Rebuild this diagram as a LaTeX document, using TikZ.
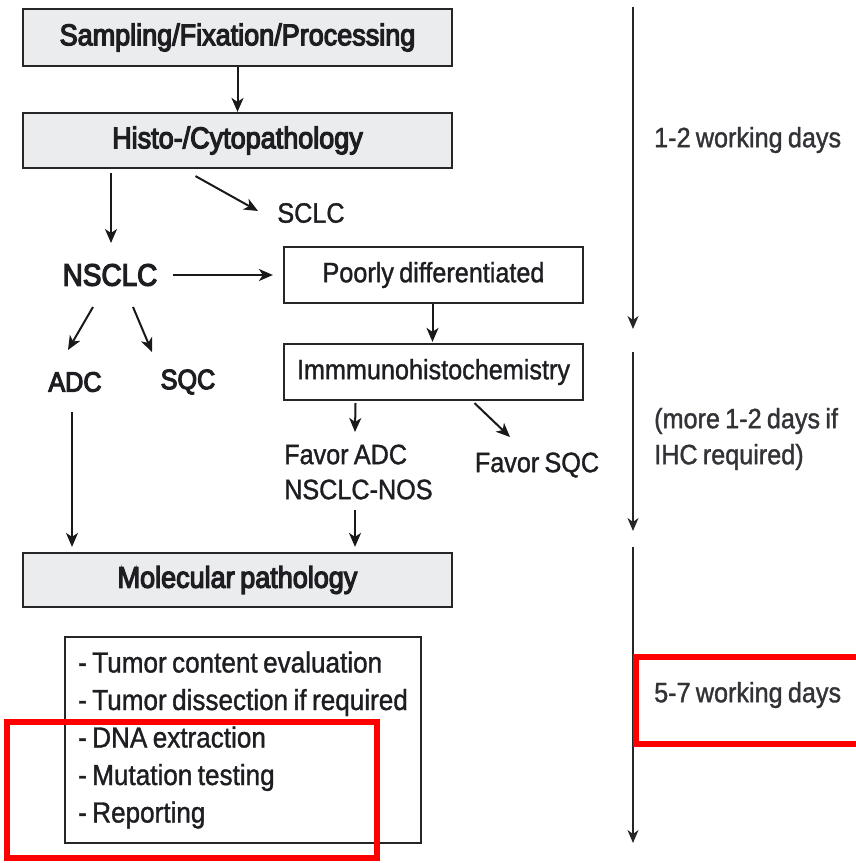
\documentclass[tikz,border=0pt]{standalone}
\usepackage{fontspec}
\setmainfont{Liberation Sans}[FakeStretch=0.9,FakeBold=1.2,WordSpace=0.75]
\newfontfamily\semib{Liberation Sans}[FakeStretch=0.9,FakeBold=4,WordSpace=0.75]
\usetikzlibrary{arrows.meta,calc}
\definecolor{boxgray}{RGB}{235,236,238}
\definecolor{txt}{RGB}{30,30,34}
\definecolor{txtgray}{RGB}{50,50,55}
\definecolor{hilite}{RGB}{255,0,0}
\begin{document}
\begin{tikzpicture}[x=1pt,y=-1pt,
  every node/.style={text=txt,font=\fontsize{28}{35}\selectfont},
  graybox/.style={draw=black!85,line width=2.2pt,fill=boxgray,inner sep=0pt,
    font=\semib\fontsize{30}{36}\selectfont},
  whitebox/.style={draw=black!85,line width=2.2pt,fill=white,inner sep=0pt},
  lbl/.style={inner sep=0pt},
  heavy/.style={inner sep=0pt,font=\semib\fontsize{28}{34}\selectfont},
  arr/.style={draw=black!90,line width=2pt,-{Stealth[length=14pt,width=12pt,inset=4pt]}},
  timearr/.style={draw=black!85,line width=1.5pt,-{Stealth[length=13pt,width=11pt,inset=4pt]}},
  redbox/.style={draw=hilite,line width=6pt}]
\useasboundingbox[fill=white] (0,0) rectangle (856,863);

% main flow
\node[graybox,minimum width=429pt,minimum height=57pt] (samp) at (237.5,37.5) {Sampling/Fixation/Processing};
\node[graybox,minimum width=429pt,minimum height=55pt] (hist) at (237.5,140.5) {Histo-/Cytopathology};
\node[lbl] (sclc) at (311,213) {SCLC};
\node[heavy,font=\semib\fontsize{31}{36}\selectfont] (nsclc) at (110,275) {NSCLC};
\node[whitebox,minimum width=299pt,minimum height=56pt] (poor) at (433.5,275) {Poorly differentiated};
\node[heavy] (adc) at (75,382) {ADC};
\node[heavy] (sqc) at (188,382) {SQC};
\node[whitebox,minimum width=299pt,minimum height=56pt] (immuno) at (433.5,372) {Immmunohistochemistry};
\node[lbl,align=left,anchor=west] (favadc) at (284,472) {Favor ADC\\NSCLC-NOS};
\node[lbl] (favsqc) at (537,465) {Favor SQC};
\node[graybox,minimum width=429pt,minimum height=54pt] (mol) at (237.5,580) {Molecular pathology};
\node[whitebox,minimum width=356pt,minimum height=206pt,align=left,
  font=\fontsize{29}{37.5}\selectfont] (steps) at (243,740)
  {- Tumor content evaluation\\- Tumor dissection if required\\- DNA extraction\\- Mutation testing\\- Reporting};

% connectors
\draw[arr] (samp) -- (hist);
\draw[arr] ($(hist.south -| nsclc)+(1,4)$) -- ($(nsclc)+(1,-32)$);
\draw[arr] ($(hist.south)+(-42,7)$) -- ($(sclc)+(-53,-2)$);
\draw[arr] ($(nsclc)+(63,0)$) -- ($(poor.west)+(-10,0)$);
\draw[arr] ($(nsclc)+(-17,32)$) -- ($(adc)+(-7,-32)$);
\draw[arr] ($(nsclc)+(23,32)$) -- ($(sqc)+(-36,-30)$);
\draw[arr] ($(poor.south)+(-1,0)$) -- ($(immuno.north)+(-1,-1)$);
\draw[arr] ($(immuno.south)+(-78,2)$) -- ($(favadc.west)+(71,-40)$);
\draw[arr] ($(immuno.south)+(41,2)$) -- ($(favsqc)+(-27,-28)$);
\draw[arr] ($(adc)+(-3,30)$) -- ($(adc |- mol.north)+(-3,-5)$);
\draw[arr] ($(favadc.west)+(71,38)$) -- ($(favadc.west |- mol.north)+(71,-5)$);

% time line
\coordinate (t1a) at (633,7);   \coordinate (t1b) at (633,329);
\coordinate (t2a) at (633,352); \coordinate (t2b) at (633,531);
\coordinate (t3a) at (633,547); \coordinate (t3b) at (633,843);
\draw[timearr] (t1a) -- (t1b);
\draw[timearr] (t2a) -- (t2b);
\draw[timearr] (t3a) -- (t3b);
\node[lbl,anchor=west,text=txtgray] (d1) at (654,140) {1-2 working days};
\node[lbl,anchor=west,align=left,text=txtgray,font=\fontsize{28}{36}\selectfont] (d2) at (654,439) {(more 1-2 days if\\IHC required)};
\node[lbl,anchor=west,text=txtgray] (d3) at (654,695) {5-7 working days};

% highlight boxes
\draw[redbox] (7,722) rectangle (377,858);
\draw[redbox] (636,657) rectangle (870,744);
\end{tikzpicture}
\end{document}
